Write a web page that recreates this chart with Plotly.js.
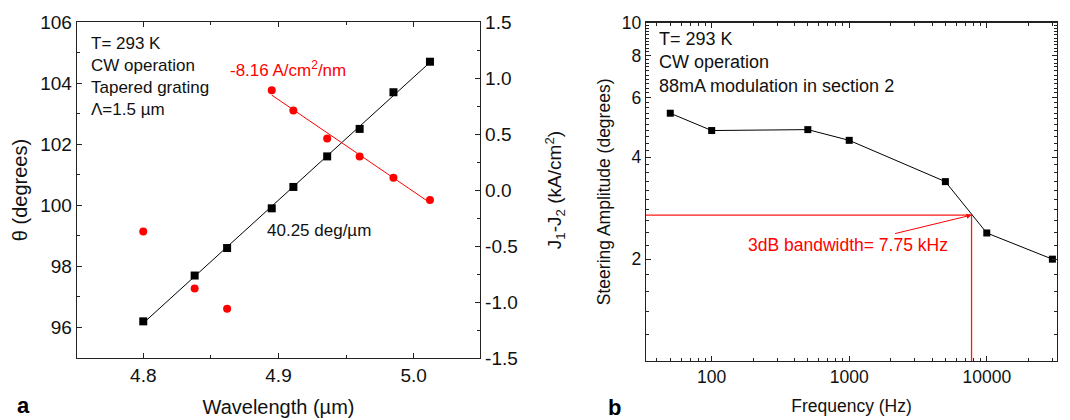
<!DOCTYPE html>
<html>
<head>
<meta charset="utf-8">
<script src="https://cdn.plot.ly/plotly-3.0.1.min.js"></script>
<style>
html,body{margin:0;padding:0;background:#fff;}
#chart{width:1070px;height:420px;}
</style>
</head>
<body>
<div id="chart"></div>
<script>
// ---- Panel a data ----
const wavelength = [4.800, 4.838, 4.862, 4.895, 4.911, 4.936, 4.960, 4.985, 5.012];
const theta      = [96.2, 97.7, 98.6, 99.9, 100.6, 101.6, 102.5, 103.7, 104.7];
const deltaJ     = [-0.37, -0.88, -1.06, 0.89, 0.71, 0.46, 0.30, 0.11, -0.09];
const redFitStart = 3; // points used in the J1-J2 linear fit

// ---- Panel b data ----
const frequency = [50, 100, 500, 1000, 5000, 10000, 30000];
const amplitude = [5.40, 4.80, 4.83, 4.49, 3.39, 2.39, 2.00];
const bandwidthHz = 7750;
const halfLevel = 2.7;

const xTicksB = [100, 1000, 10000];
const yTicksB = [2, 4, 6, 8, 10];

function linfit(xs, ys) {
  const n = xs.length;
  const mx = xs.reduce((a,b)=>a+b,0)/n, my = ys.reduce((a,b)=>a+b,0)/n;
  let sxy=0, sxx=0;
  for (let i=0;i<n;i++){ sxy+=(xs[i]-mx)*(ys[i]-my); sxx+=(xs[i]-mx)**2; }
  const m = sxy/sxx; const b = my - m*mx;
  return x => m*x + b;
}
const fBlack = linfit(wavelength, theta);
const redX = wavelength.slice(redFitStart), redY = deltaJ.slice(redFitStart);
const fRed = linfit(redX, redY);
const blackFitX = [wavelength[0], wavelength[wavelength.length-1]];
const redFitX = [redX[0], redX[redX.length-1]];

// minor tick positions
const minorLogX = [];
for (const dec of [10, 100, 1000, 10000]) for (let k=2;k<=9;k++) minorLogX.push(k*dec);
const minorLogY = [];
for (let v=1.2; v<9.95; v+=0.2) { const r=Math.round(v*10)/10; if (!yTicksB.includes(r)) minorLogY.push(r); }

const FONT = 'Arial, "Liberation Sans", sans-serif';
const xRangeB = [Math.log10(33.3), Math.log10(32400)];

const traces = [
  {x: blackFitX, y: blackFitX.map(fBlack), xaxis:'x', yaxis:'y', mode:'lines',
   line:{color:'#000', width:1}, hoverinfo:'skip'},
  {x: wavelength, y: theta, xaxis:'x', yaxis:'y', mode:'markers',
   marker:{symbol:'square', size:8, color:'#000'}},
  {x: redFitX, y: redFitX.map(fRed), xaxis:'x', yaxis:'y2', mode:'lines',
   line:{color:'#ff0000', width:1}, hoverinfo:'skip'},
  {x: wavelength, y: deltaJ, xaxis:'x', yaxis:'y2', mode:'markers',
   marker:{symbol:'circle', size:8, color:'#ff0000'}},
  {x: [Math.pow(10, xRangeB[0]), bandwidthHz, bandwidthHz], y: [halfLevel, halfLevel, 1],
   xaxis:'x2', yaxis:'y3', mode:'lines', line:{color:'#ff1a1a', width:1.3}, hoverinfo:'skip'},
  {x: frequency, y: amplitude, xaxis:'x2', yaxis:'y3', mode:'lines+markers',
   line:{color:'#000', width:1}, marker:{symbol:'square', size:7, color:'#000'}, cliponaxis:false}
];

const axCommon = {showline:true, linecolor:'#222', linewidth:1.3, ticks:'inside',
  tickcolor:'#222', showgrid:false, zeroline:false, automargin:false};

const layout = {
  width:1070, height:420,
  margin:{l:0, r:0, t:0, b:0},
  paper_bgcolor:'#fff', plot_bgcolor:'#fff',
  showlegend:false,
  font:{family:FONT, color:'#111'},
  xaxis: Object.assign({}, axCommon, {
    domain:[77/1070, 480/1070], range:[4.751, 5.049], anchor:'y',
    tickmode:'array', tickvals:[4.8, 4.9, 5.0], ticktext:['4.8','4.9','5.0'],
    ticklen:5, mirror:'ticks',
    minor:{tickvals:[4.75, 4.85, 4.95, 5.05], ticklen:3, ticks:'inside', tickcolor:'#222'},
    tickfont:{size:19, family:FONT, color:'#111'},
    title:{text:'Wavelength (µm)', font:{size:20, family:FONT, color:'#111'}, standoff:15}
  }),
  yaxis: Object.assign({}, axCommon, {
    domain:[1-358/420, 1-22/420], range:[95, 106], anchor:'x',
    tickmode:'array', tickvals:[96, 98, 100, 102, 104, 106], ticklen:5,
    minor:{tickvals:[95, 97, 99, 101, 103, 105], ticklen:3, ticks:'inside', tickcolor:'#222'},
    tickfont:{size:19, family:FONT, color:'#111'},
    title:{text:'θ (degrees)', font:{size:20, family:FONT, color:'#111'}, standoff:7}
  }),
  yaxis2: Object.assign({}, axCommon, {
    overlaying:'y', side:'right', anchor:'x', range:[-1.5, 1.5],
    tickmode:'array', tickvals:[-1.5,-1.0,-0.5,0,0.5,1.0,1.5],
    ticktext:['-1.5','-1.0','-0.5','0.0','0.5','1.0','1.5'], ticklen:5,
    minor:{tickvals:[-1.25,-0.75,-0.25,0.25,0.75,1.25], ticklen:3, ticks:'inside', tickcolor:'#222'},
    tickfont:{size:19, family:FONT, color:'#111'},
    title:{text:'J<sub>1</sub>-J<sub>2</sub> (kA/cm<sup>2</sup>)', font:{size:19, family:FONT, color:'#111'}, standoff:31}
  }),
  xaxis2: Object.assign({}, axCommon, {
    domain:[646/1070, 1057/1070], type:'log', range:xRangeB, anchor:'y3',
    tickmode:'array', tickvals:xTicksB, ticktext:xTicksB.map(String), ticklen:5, mirror:'ticks',
    minor:{tickvals:minorLogX, ticklen:3, ticks:'inside', tickcolor:'#222'},
    tickfont:{size:17.5, family:FONT, color:'#111'},
    title:{text:'Frequency (Hz)', font:{size:17.5, family:FONT, color:'#111'}, standoff:13}
  }),
  yaxis3: Object.assign({}, axCommon, {
    domain:[1-361/420, 1-22.7/420], type:'log', range:[0, 1], anchor:'x2',
    tickmode:'array', tickvals:yTicksB, ticktext:yTicksB.map(String), ticklen:5, mirror:'ticks',
    minor:{tickvals:minorLogY, ticklen:3, ticks:'inside', tickcolor:'#222'},
    tickfont:{size:17.5, family:FONT, color:'#111'},
    title:{text:'Steering Amplitude (degrees)', font:{size:17.5, family:FONT, color:'#111'}, standoff:6}
  }),
  annotations: [
    {xref:'paper', yref:'paper', x:89/1070, y:1-76.5/420, xanchor:'left', yanchor:'middle', align:'left',
     showarrow:false, text:'T= 293 K<br>CW operation<br>Tapered grating<br>Λ=1.5 µm',
     font:{size:17, family:FONT, color:'#111'}},
    {xref:'paper', yref:'paper', x:228/1070, y:1-69/420, xanchor:'left', yanchor:'middle',
     showarrow:false, text:'-8.16 A/cm<sup>2</sup>/nm', font:{size:17, family:FONT, color:'#ff0000'}},
    {xref:'paper', yref:'paper', x:265/1070, y:1-230/420, xanchor:'left', yanchor:'middle',
     showarrow:false, text:'40.25 deg/µm', font:{size:17, family:FONT, color:'#111'}},
    {xref:'paper', yref:'paper', x:657/1070, y:1-62/420, xanchor:'left', yanchor:'middle', align:'left',
     showarrow:false, text:'T= 293 K<br>CW operation<br>88mA modulation in section 2',
     font:{size:18, family:FONT, color:'#111'}},
    {xref:'x2', yref:'y3', x:Math.log10(bandwidthHz), y:Math.log10(halfLevel),
     ax:-124, ay:30, showarrow:true, arrowhead:2, arrowsize:1, arrowwidth:1, arrowcolor:'#ff0000',
     text:'3dB bandwidth= 7.75 kHz', font:{size:17.5, family:FONT, color:'#ff0000'}},
    {xref:'paper', yref:'paper', x:23.5/1070, y:1-405/420, xanchor:'center', yanchor:'middle',
     showarrow:false, text:'<b>a</b>', font:{size:22, family:FONT, color:'#000'}},
    {xref:'paper', yref:'paper', x:614/1070, y:1-407/420, xanchor:'center', yanchor:'middle',
     showarrow:false, text:'<b>b</b>', font:{size:22, family:FONT, color:'#000'}}
  ]
};

Plotly.newPlot('chart', traces, layout, {displayModeBar:false, staticPlot:true});
</script>
</body>
</html>
